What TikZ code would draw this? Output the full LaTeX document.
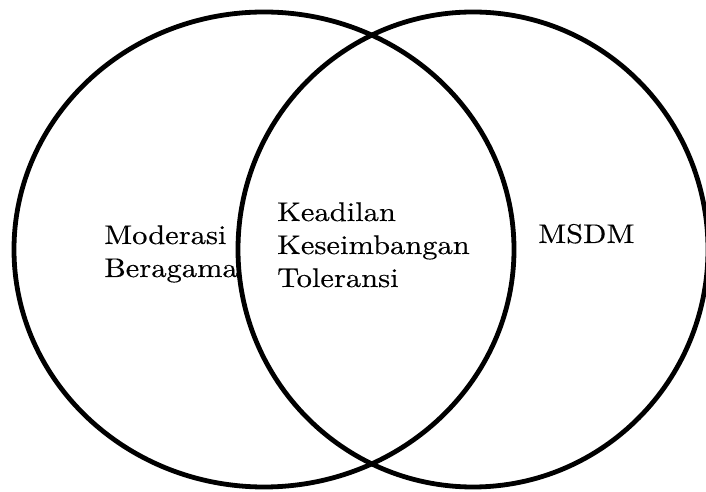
\documentclass[tikz,border=0pt]{standalone}
\usepackage{fontspec}
\usetikzlibrary{shapes.geometric}
\newfontfamily\labfont{lmroman10-regular.otf}[FakeStretch=1.13,FakeBold=0.3]
\tikzset{
  setring/.style={ellipse, draw=black, line width=4.8pt, inner sep=0pt},
  setlabel/.style={anchor=base west, inner sep=0pt, align=left,
    font=\labfont\fontsize{27}{33}\selectfont}
}
\begin{document}
\begin{tikzpicture}[x=1pt,y=1pt]
\useasboundingbox (0,0) rectangle (706,492);
\clip (0,0) rectangle (706,492);
\node[setring, minimum width=500pt, minimum height=475pt] (left) at (264,242.5) {};
\node[setring, minimum width=470pt, minimum height=475pt] (right) at (473,242.5) {};
\node[setlabel] (moderasi) at (104,215) {Moderasi\\Beragama};
\node[setlabel] (nilai) at (277,205) {Keadilan\\Keseimbangan\\Toleransi};
\node[setlabel] (msdm) at (538,249) {MSDM};
\end{tikzpicture}
\end{document}
